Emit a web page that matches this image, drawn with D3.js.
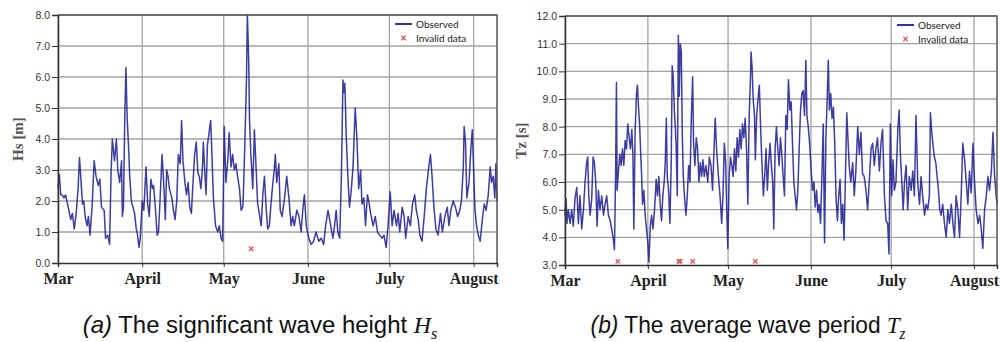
<!DOCTYPE html>
<html>
<head>
<meta charset="utf-8">
<script src="https://cdn.jsdelivr.net/npm/d3@7"></script>
<style>
  body { margin: 0; background: #fff; }
  svg { display: block; }
</style>
</head>
<body>
<div id="chart"></div>
<script>
// day offsets from 1 March
var hsDay = [0,0.5,1,1.5,2.2,2.8,3.5,4,4.7,5.3,6,6.7,7.4,7.9,8.3,9,9.5,10,10.7,11.2,11.8,12.6,13.3,14,14.8,15.4,16,17,17.5,18.3,19,19.5,20,20.8,21.5,22,22.7,23.4,23.7,24.1,24.6,25,25.3,25.5,25.9,26.4,27,27.6,28.2,28.8,29.3,29.8,30.3,31,31.6,32.4,33,33.6,34.2,34.8,35.2,35.9,36.5,37,37.6,38.3,38.9,39.5,40,40.5,41,41.9,42.5,43.1,43.7,44.3,45,45.5,46,46.7,47.3,47.9,48.5,49.1,49.7,50.3,50.9,
  51.5,52,52.6,53.2,53.5,54,54.5,55,55.6,56.2,56.7,57.2,58,58.8,59.4,60,60.6,61.2,61.8,62.5,63,63.7,64.3,64.9,65.5,66.1,66.8,67.4,68,68.2,68.8,69.4,69.7,70,70.2,70.5,71,71.7,72.3,72.9,73.5,74.1,74.8,75.4,76,76.6,77.2,77.8,78.4,79,79.6,80,80.5,81.3,81.8,82.5,83.4,84.2,85,85.8,86.4,87,87.9,88.7,89.5,90.1,90.7,91.4,92.3,93.2,94.1,95,96,96.9,97.8,98.5,99.4,100,100.6,101.2,101.8,102.4,103,103.7,104.3,104.9,105.3,105.6,
  106.1,106.7,107.3,108,108.6,109.4,110,110.7,111.4,111.9,112.6,113.2,113.9,114.4,115.1,116,116.8,117.6,118.4,119.3,120,120.8,121.5,122.3,123,123.7,124.6,125.2,125.8,126.7,127.4,128,128.9,129.7,130.5,131.3,131.9,132.6,133.2,134,134.8,135.6,136.5,137.1,137.7,138.3,139.1,139.9,140.8,141.5,142.4,143.3,143.9,144.6,145.5,146.3,147.1,147.9,148.5,149.2,149.5,150,150.5,151.3,152,152.5,153,153.5,154.1,154.7,155.4,156.2,156.9,157.6,158.4,159.1,159.6,160.2,160.8,161.2,161.6];
var hsVal = [2.4,2.85,2.2,2.2,2.1,2.2,1.9,1.7,1.4,1.6,1.1,1.6,2.4,3.4,2.9,1.9,2.0,1.5,1.2,1.5,0.9,1.9,3.3,2.8,2.5,2.7,1.8,1.7,0.8,0.9,0.6,2.8,4.0,3.3,4.0,3.0,2.6,3.3,1.5,1.8,4.8,6.3,5.2,4.6,3.9,2.8,2.0,1.8,1.6,1.1,0.9,0.5,0.8,2.0,1.7,3.1,1.9,1.5,2.7,2.4,2.5,1.7,0.9,1.0,2.1,3.5,2.6,1.4,3.0,2.8,2.4,2.1,1.7,1.4,2.0,3.5,3.2,4.6,3.3,2.6,2.2,2.6,1.8,1.6,2.6,3.5,3.9,
  2.9,2.8,2.4,3.1,3.9,3.0,2.2,3.8,4.2,4.6,3.4,2.1,1.2,1.0,1.2,0.8,0.7,4.4,2.6,3.3,4.2,3.1,3.5,3.0,3.2,2.8,2.4,1.7,1.8,2.1,3.9,6.0,8.0,7.2,6.5,4.6,3.5,2.4,4.3,3.1,1.9,1.6,1.2,2.2,2.8,1.8,1.1,1.2,1.9,2.5,3.0,3.5,2.6,3.2,1.7,1.5,2.1,2.8,2.1,1.2,1.5,1.2,1.7,1.5,1.0,1.7,2.2,1.2,0.8,0.6,0.7,1.0,0.7,0.8,0.6,1.2,1.7,1.4,1.1,0.8,1.2,1.7,1.0,0.8,2.7,5.9,5.5,5.8,
  4.1,2.8,1.8,2.4,3.1,5.0,4.1,2.4,3.0,1.9,2.1,1.2,2.2,2.0,1.6,1.2,1.5,1.0,0.9,0.8,0.9,0.5,1.2,2.3,1.2,1.7,1.2,1.6,1.0,1.8,1.5,0.8,1.5,1.2,1.9,2.2,1.7,1.4,0.9,0.7,1.5,2.4,3.1,3.5,2.8,1.9,1.1,0.9,1.6,1.0,1.5,1.8,1.2,1.7,2.0,1.8,1.5,1.7,2.0,3.1,4.4,3.9,2.1,2.6,3.7,4.3,3.0,1.7,1.2,0.9,0.7,1.4,1.9,1.7,2.2,3.1,2.6,2.8,2.1,3.2,2.0];

var tzDay = [0,0.4,0.75,1.25,1.9,2.5,3.1,3.75,4.4,5,5.6,6.25,6.9,7.5,8.1,8.5,8.9,9.4,10,10.5,11,11.5,12,12.5,13.1,13.75,14.4,15,15.6,16.25,16.9,17.5,18.1,18.5,18.9,19.25,19.5,20,20.5,21,21.5,22,22.5,23,23.5,24,24.5,25,25.4,25.75,26.25,26.75,27.1,27.5,27.9,28.25,28.6,29,29.5,30,30.5,31,31.4,31.9,32.4,32.9,33.5,34.1,34.6,35.1,35.6,36.1,36.6,37.1,37.5,37.9,38.25,38.75,39.25,39.75,40.1,40.5,40.9,41.25,41.6,42,42.4,42.75,43.1,43.5,43.9,44.25,44.75,45.25,45.75,46.25,46.75,47.25,47.75,48.1,48.6,49.1,49.6,50.1,50.6,51.1,51.6,
  52.1,52.7,53.4,54,54.6,55.2,55.9,56.2,56.7,57.4,58,58.6,59.1,59.6,60.1,60.5,60.9,61.4,61.9,62.4,62.9,63.4,63.9,64.4,64.9,65.4,65.9,66.4,66.9,67.4,67.9,68.4,68.9,69.4,69.6,70,70.4,70.9,71.2,71.7,72.2,72.7,73.2,73.7,74.2,74.7,75.2,75.7,76.2,76.7,77.2,77.7,78.1,78.6,79.1,79.6,80.1,80.6,81.1,81.6,82.1,82.6,83.1,83.6,84.1,84.6,85.1,85.6,86.1,86.6,87.1,87.6,88.1,88.6,89.1,89.6,90.1,90.5,91,91.5,92.1,92.6,93.1,93.6,94.1,94.6,95.1,95.6,96.1,96.6,97.1,97.6,98.1,98.5,98.9,99.4,99.9,100.4,100.9,101.4,101.9,102.4,102.9,103.4,103.9,104.4,104.9,105.4,
  106.3,106.9,107.6,108.2,108.8,109.5,110.1,110.7,111.3,111.9,112.6,113.2,113.8,114.5,115.1,115.7,116.3,116.9,117.6,118.2,118.8,119.5,120.1,120.7,121.2,121.7,122.2,122.7,123.2,123.8,124.5,125,125.5,126,126.5,127,127.6,128.2,128.8,129.5,130.1,130.7,131.3,131.95,132.6,133.2,133.8,134.5,135.1,135.7,136.3,136.7,137.2,137.7,138.2,138.7,139.2,139.7,140.2,140.7,141.3,141.95,142.6,143.2,143.8,144.5,145.1,145.7,146.3,146.95,147.6,148.2,148.8,149.5,150.1,150.7,151.3,151.95,152.6,153.2,153.8,154.5,155.1,155.7,156.3,156.95,157.6,158.2,158.8,159.5,160.1,160.7,161.3,161.6];
var tzVal = [4.8,5.4,4.5,5.0,4.5,5.0,4.4,5.4,5.8,4.5,5.5,4.3,5.0,6.0,6.7,6.9,5.5,4.8,5.4,6.9,6.7,6.0,4.4,5.7,5.0,5.5,4.8,5.2,5.5,4.8,4.6,4.3,3.9,3.55,6.1,9.6,5.7,6.4,7.0,6.6,7.2,6.6,7.5,7.2,8.1,7.6,7.2,7.9,7.0,4.3,7.9,9.2,9.5,8.7,8.1,7.2,6.4,5.2,5.7,4.8,4.3,3.8,3.1,4.4,4.8,4.3,5.0,6.1,5.5,6.2,5.2,4.6,5.5,6.0,6.7,8.3,6.2,5.7,4.5,6.8,10.2,9.8,8.6,8.0,7.2,5.5,11.3,9.1,11.0,10.7,7.6,6.2,5.4,4.8,5.5,6.6,6.0,8.3,9.8,7.4,6.6,7.6,7.2,6.0,6.7,6.2,6.8,
  6.2,6.6,6.0,6.9,6.6,5.7,7.6,8.3,7.2,6.2,5.5,4.5,5.5,7.4,6.7,5.0,3.6,6.2,6.9,6.6,6.2,7.2,6.4,7.6,6.9,7.9,7.2,8.1,7.6,8.3,7.2,5.2,8.4,9.8,10.7,10.1,9.0,8.4,6.8,8.4,9.0,9.5,7.9,6.6,5.5,6.2,7.2,5.7,6.7,7.4,6.6,6.0,4.3,7.2,8.0,7.2,6.6,7.6,7.0,6.2,5.5,8.4,7.9,9.7,8.6,8.9,7.4,6.0,5.5,5.0,5.7,7.2,8.6,9.2,9.3,8.4,10.4,8.4,8.0,7.4,6.4,5.7,6.0,5.1,5.7,4.9,5.2,4.5,6.2,8.1,3.8,7.6,9.1,10.4,8.6,9.2,8.3,8.7,7.4,5.4,4.6,5.5,6.1,4.5,5.2,3.9,6.2,8.5,
  6.6,6.0,6.7,5.5,6.4,8.0,7.0,7.8,6.3,6.2,5.7,5.0,6.0,7.2,7.4,6.6,7.2,7.6,6.4,7.4,7.9,5.5,4.6,4.5,3.4,8.1,5.5,6.8,5.7,6.0,7.9,8.6,6.9,6.0,5.0,6.0,6.6,5.0,6.2,5.7,6.4,5.5,8.4,6.0,5.2,6.2,5.5,4.8,5.2,5.0,5.5,8.5,7.8,7.3,6.9,6.7,6.2,5.7,5.0,4.8,5.2,4.5,4.0,5.0,4.5,5.2,4.5,4.0,5.5,5.0,4.0,5.5,7.4,6.8,6.0,5.2,6.4,5.6,7.4,6.0,5.0,4.5,4.8,4.3,3.6,5.0,5.5,6.2,5.7,6.4,7.8,6.2,5.5,5.2];

var hsBadDay = [71.1];
var hsBadVal = [0.46];
var tzBadDay = [19.75, 42.6, 43.1, 47.75, 71.2];
var tzBadVal = [3.13, 3.13, 3.13, 3.13, 3.13];

var monthLabels = ["Mar", "April", "May", "June", "July", "August"];
var hsTicks = [0, 1, 2, 3, 4, 5, 6, 7, 8];
var tzTicks = [3, 4, 5, 6, 7, 8, 9, 10, 11, 12];
var legendLabels = ["Observed", "Invalid data"];

var t0 = new Date(2014, 2, 1);
var tEnd = new Date(t0.getTime() + 161.6 * 864e5);
var monthStarts = d3.timeMonth.range(t0, tEnd);

function toDate(d) {
  return new Date(t0.getTime() + d * 864e5);
}

var svg = d3.select("#chart")
  .append("svg")
  .attr("width", 1001)
  .attr("height", 342);

function drawPanel(cfg) {
  var g = svg.append("g");
  var x = d3.scaleTime().domain([t0, tEnd]).range([cfg.left, cfg.right]);
  var y = d3.scaleLinear().domain([cfg.ticks[0], cfg.ticks[cfg.ticks.length - 1]]).range([cfg.bottom, cfg.top]);

  // grid
  g.append("g")
    .selectAll("line")
    .data(cfg.ticks.slice(1))
    .join("line")
    .attr("x1", cfg.left).attr("x2", cfg.right)
    .attr("y1", function(d) { return y(d); })
    .attr("y2", function(d) { return y(d); })
    .style("stroke", "#a3a3a3")
    .style("stroke-width", "1.3px");
  g.append("g")
    .selectAll("line")
    .data(monthStarts)
    .join("line")
    .attr("x1", function(d) { return x(d); })
    .attr("x2", function(d) { return x(d); })
    .attr("y1", cfg.top).attr("y2", cfg.bottom)
    .style("stroke", "#a3a3a3")
    .style("stroke-width", "1.3px");

  // observed series
  var pts = cfg.days.map(function(d, i) { return [toDate(d), cfg.vals[i]]; });
  var line = d3.line()
    .x(function(d) { return x(d[0]); })
    .y(function(d) { return y(d[1]); });
  g.append("path")
    .datum(pts)
    .attr("d", line)
    .style("fill", "none")
    .style("stroke", "#1c1c90")
    .style("stroke-opacity", 0.85)
    .style("stroke-width", "1.5px")
    .style("stroke-linejoin", "round");

  // invalid points
  var bad = cfg.badDays.map(function(d, i) { return [toDate(d), cfg.badVals[i]]; });
  var cross = d3.symbol().type(d3.symbolX).size(14);
  g.append("g")
    .selectAll("path")
    .data(bad)
    .join("path")
    .attr("d", cross)
    .attr("transform", function(d) { return `translate(${x(d[0])},${y(d[1])})`; })
    .style("fill", "none")
    .style("stroke", "#e05a5a")
    .style("stroke-width", "1.4px");

  // frame top / right
  g.append("path")
    .attr("d", `M${cfg.left},${cfg.top} H${cfg.right} V${cfg.bottom}`)
    .style("fill", "none")
    .style("stroke", "#555")
    .style("stroke-width", "1.5px");

  // axes
  var yAxis = g.append("g")
    .attr("transform", `translate(${cfg.left},0)`)
    .call(d3.axisLeft(y).tickValues(cfg.ticks).tickFormat(d3.format(".1f")).tickSize(6).tickPadding(2));
  yAxis.select(".domain").style("stroke", "#333").style("stroke-width", "1.5px");
  yAxis.selectAll(".tick line").style("stroke", "#333");
  yAxis.selectAll("text")
    .style("font-family", "'Liberation Sans', Arial, sans-serif")
    .style("font-size", "10.5px")
    .style("fill", "#333");

  var xAxis = g.append("g")
    .attr("transform", `translate(0,${cfg.bottom})`)
    .call(d3.axisBottom(x).tickValues(monthStarts).tickFormat(function(d, i) { return monthLabels[i]; }).tickSize(4).tickPadding(6));
  xAxis.select(".domain").style("stroke", "#333").style("stroke-width", "1.5px");
  xAxis.selectAll(".tick line").style("stroke", "#333");
  xAxis.selectAll("text")
    .style("font-family", "'Liberation Serif', 'DejaVu Serif', serif")
    .style("font-weight", "bold")
    .style("font-size", "16px")
    .style("fill", "#222");

  // y title
  g.append("text")
    .attr("transform", `translate(${cfg.titleX},${(cfg.top + cfg.bottom) / 2}) rotate(-90)`)
    .attr("text-anchor", "middle")
    .attr("dy", "0.35em")
    .style("font-family", "'Liberation Serif', serif")
    .style("font-weight", "bold")
    .style("font-size", "15px")
    .style("fill", "#555")
    .text(cfg.title);

  // legend
  var lg = g.append("g").attr("transform", `translate(${cfg.legendX},${cfg.top + 9})`);
  lg.append("line")
    .attr("x1", 0).attr("x2", 17).attr("y1", 0).attr("y2", 0)
    .style("stroke", "#1c1c90")
    .style("stroke-width", "1.8px");
  lg.append("path")
    .attr("d", cross)
    .attr("transform", "translate(8.5,14)")
    .style("fill", "none")
    .style("stroke", "#e05a5a")
    .style("stroke-width", "1.4px");
  lg.selectAll("text")
    .data(legendLabels)
    .join("text")
    .attr("x", 21)
    .attr("y", function(d, i) { return i * 14; })
    .attr("dy", "0.35em")
    .style("font-family", "Lato, sans-serif")
    .style("font-size", "10px")
    .style("fill", "#222")
    .text(function(d) { return d; });
}

drawPanel({
  left: 58, right: 497, top: 15, bottom: 263,
  ticks: hsTicks, days: hsDay, vals: hsVal,
  badDays: hsBadDay, badVals: hsBadVal,
  title: "Hs [m]", titleX: 18, legendX: 395
});

drawPanel({
  left: 565, right: 997, top: 16, bottom: 265,
  ticks: tzTicks, days: tzDay, vals: tzVal,
  badDays: tzBadDay, badVals: tzBadVal,
  title: "Tz [s]", titleX: 521, legendX: 897
});

// captions, squeezed to the narrow look of the original
function caption(cx, width, tag, body, sym, sub) {
  var g = svg.append("g");
  var t = g.append("text")
    .attr("x", 0)
    .attr("y", 0)
    .attr("text-anchor", "middle")
    .style("font-family", "'Liberation Sans', Arial, sans-serif")
    .style("font-size", "24px")
    .style("fill", "#111");
  t.append("tspan").style("font-style", "italic").text(tag);
  t.append("tspan").text(" " + body + " ");
  t.append("tspan")
    .style("font-family", "'Liberation Serif', serif")
    .style("font-style", "italic")
    .text(sym);
  t.append("tspan")
    .attr("dy", 6)
    .style("font-family", "'Liberation Serif', serif")
    .style("font-style", "italic")
    .style("font-size", "16px")
    .text(sub);
  var w = t.node().getComputedTextLength();
  g.attr("transform", `translate(${cx},333) scale(${width / w},1)`);
}
caption(260, 355, "(a)", "The significant wave height", "H", "s");
caption(748, 315, "(b)", "The average wave period", "T", "z");
</script>
</body>
</html>
